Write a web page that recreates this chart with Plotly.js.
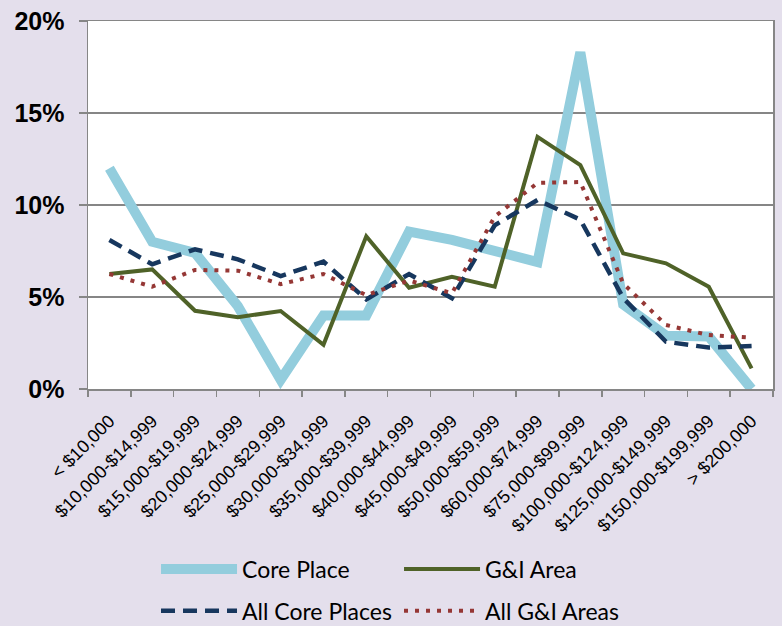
<!DOCTYPE html>
<html>
<head>
<meta charset="utf-8">
<script src="https://cdn.plot.ly/plotly-3.0.1.min.js"></script>
<style>html,body{margin:0;padding:0;background:#E4DFEC;}#chart{width:782px;height:626px;}</style>
</head>
<body>
<div id="chart"></div>
<script>
const categories = ["< $10,000","$10,000-$14,999","$15,000-$19,999","$20,000-$24,999","$25,000-$29,999","$30,000-$34,999","$35,000-$39,999","$40,000-$44,999","$45,000-$49,999","$50,000-$59,999","$60,000-$74,999","$75,000-$99,999","$100,000-$124,999","$125,000-$149,999","$150,000-$199,999","> $200,000"];
const corePlace = [12.0, 8.0, 7.4, 4.5, 0.5, 4.0, 4.0, 8.55, 8.1, 7.55, 6.9, 18.3, 4.6, 2.9, 2.85, 0.0];
const giArea = [6.25, 6.5, 4.25, 3.9, 4.24, 2.4, 8.3, 5.5, 6.1, 5.56, 13.7, 12.17, 7.37, 6.83, 5.56, 1.12];
const allCorePlaces = [8.1, 6.78, 7.59, 7.05, 6.14, 6.92, 4.87, 6.25, 4.93, 8.9, 10.27, 9.2, 4.95, 2.57, 2.25, 2.34];
const allGIAreas = [6.25, 5.56, 6.47, 6.43, 5.7, 6.25, 5.1, 5.9, 5.2, 9.37, 11.2, 11.25, 5.74, 3.48, 2.93, 2.79];
const yTicks = [0, 5, 10, 15, 20];

const traces = [
  {x: categories, y: corePlace, name: "Core Place", type: "scatter", mode: "lines",
   line: {color: "#93CDDD", width: 10}, legend: "legend"},
  {x: categories, y: giArea, name: "G&I Area", type: "scatter", mode: "lines",
   line: {color: "#4F6228", width: 4}, legend: "legend"},
  {x: categories, y: allCorePlaces, name: "All Core Places", type: "scatter", mode: "lines",
   line: {color: "#17375E", width: 4.5, dash: "14px,8px"}, legend: "legend2"},
  {x: categories, y: allGIAreas, name: "All G&I Areas", type: "scatter", mode: "lines",
   line: {color: "#953735", width: 4, dash: "4px,7px"}, legend: "legend2"}
];

const legendFont = {family: "Lato, Liberation Sans, sans-serif", size: 23, color: "#000"};
const layout = {
  width: 782, height: 626,
  paper_bgcolor: "#E4DFEC", plot_bgcolor: "#FFFFFF",
  margin: {l: 88, r: 9, t: 21, b: 237, autoexpand: false},
  showlegend: true,
  xaxis: {
    type: "category", range: [-0.5, 15.5], tickson: "boundaries",
    ticks: "outside", ticklen: 6, tickcolor: "#868686", tickwidth: 1.5,
    showline: true, linecolor: "#868686", linewidth: 1.5, mirror: true,
    showgrid: false, tickangle: -45, automargin: false, ticklabelstandoff: 13,
    tickfont: {family: "Liberation Sans, Arial, sans-serif", size: 18, color: "#000"}
  },
  yaxis: {
    range: [0, 20], tickvals: yTicks, ticktext: yTicks.map(v => v + "%"),
    ticks: "outside", ticklen: 8, tickcolor: "#868686", tickwidth: 1.5,
    showline: true, linecolor: "#868686", linewidth: 1.5, mirror: true,
    showgrid: true, gridcolor: "#868686", gridwidth: 1.5, zeroline: false,
    automargin: false, ticklabelstandoff: 9,
    tickfont: {family: "Liberation Sans, Arial, sans-serif", size: 25, color: "#000", weight: "bold"}
  },
  legend: {orientation: "h", x: 0.0993, xanchor: "left", y: -0.489, yanchor: "middle",
    itemwidth: 76, entrywidth: 152, entrywidthmode: "pixels", bgcolor: "rgba(0,0,0,0)",
    font: legendFont, traceorder: "normal"},
  legend2: {orientation: "h", x: 0.0993, xanchor: "left", y: -0.603, yanchor: "middle",
    itemwidth: 76, entrywidth: 152, entrywidthmode: "pixels", bgcolor: "rgba(0,0,0,0)",
    font: legendFont, traceorder: "normal"}
};

Plotly.newPlot("chart", traces, layout, {displayModeBar: false, staticPlot: true});
</script>
</body>
</html>
